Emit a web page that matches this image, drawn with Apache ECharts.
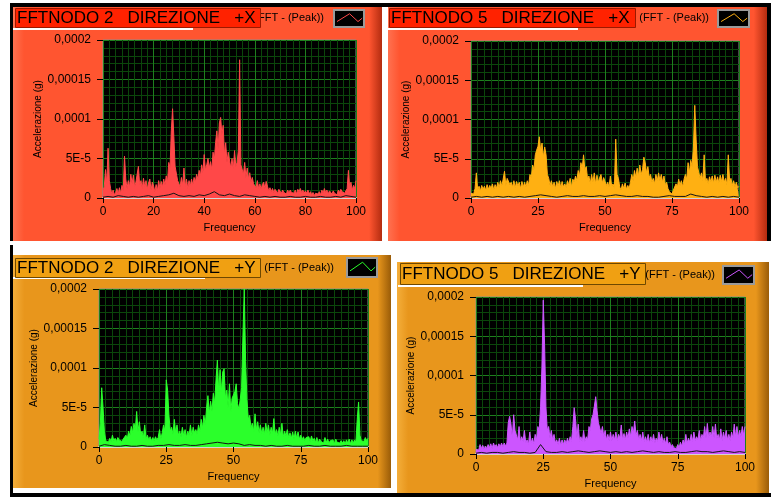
<!DOCTYPE html>
<html>
<head>
<meta charset="utf-8">
<title>FFT nodi 2 e 5</title>
<script src="https://cdn.jsdelivr.net/npm/echarts@6/dist/echarts.min.js"></script>
<style>
  html, body { margin: 0; padding: 0; background: #ffffff; }
  #chart { width: 775px; height: 497px; }
</style>
</head>
<body>
<div id="chart"></div>
<script>
// Frequency resolution of the spectra (Hz between two samples, starting at 0 Hz)
const FREQ_STEP_HZ = 0.5;
// Resolution of the low residual trace drawn along the baseline
const RESIDUAL_STEP_HZ = 2;

// Y tick labels (acceleration in g), one per 5E-5 step
const Y_TICK_LABELS = ['0', '5E-5', '0,0001', '0,00015', '0,0002'];

const PANEL_TITLES = [
  'FFTNODO 2   DIREZIONE   +X',
  'FFTNODO 5   DIREZIONE   +X',
  'FFTNODO 2   DIREZIONE   +Y',
  'FFTNODO 5   DIREZIONE   +Y'
];
const LEGEND_LABEL = '(FFT - (Peak))';
const X_AXIS_NAME = 'Frequency';
const Y_AXIS_NAME = 'Accelerazione (g)';

// Peak amplitude spectra, in micro-g (1 = 1E-6 g), 0..100 Hz every 0.5 Hz
const nodo2X = [
  10, 14, 36, 18, 63, 22, 12, 5, 10, 4,
  7, 12, 5, 13, 6, 16, 9, 53, 24, 12,
  22, 14, 30, 18, 29, 14, 20, 30, 40, 16,
  22, 12, 25, 14, 22, 11, 19, 24, 10, 20,
  15, 8, 17, 9, 22, 12, 21, 14, 24, 16,
  28, 20, 45, 38, 85, 113, 78, 40, 42, 22,
  24, 14, 26, 16, 38, 14, 24, 12, 22, 15,
  24, 16, 26, 20, 30, 24, 35, 28, 42, 32,
  55, 35, 42, 50, 38, 46, 36, 58, 48, 70,
  85, 62, 95, 102, 80, 92, 55, 70, 45, 58,
  58, 38, 50, 36, 60, 40, 45, 60, 175, 42,
  40, 30, 45, 26, 38, 24, 32, 20, 26, 18,
  20, 13, 22, 12, 18, 11, 17, 20, 12, 21,
  15, 9, 13, 8, 12, 7, 11, 9, 6, 11,
  10, 6, 10, 7, 9, 5, 10, 6, 10, 7,
  9, 6, 10, 5, 11, 8, 12, 7, 10, 6,
  9, 6, 10, 5, 8, 4, 7, 3, 6, 4,
  5, 8, 4, 10, 6, 12, 7, 10, 5, 9,
  8, 5, 9, 6, 8, 4, 10, 7, 11, 8,
  10, 6, 9, 12, 35, 14, 20, 10, 16, 12,
  22
];

const nodo5X = [
  6, 8, 5, 12, 32, 10, 15, 9, 16, 11,
  15, 10, 17, 11, 16, 12, 18, 10, 17, 12,
  20, 13, 22, 15, 24, 34, 16, 25, 27, 17,
  20, 14, 22, 13, 21, 15, 20, 12, 21, 14,
  20, 14, 22, 16, 30, 26, 42, 36, 55, 61,
  66, 78, 60, 70, 52, 65, 55, 30, 25, 16,
  22, 14, 20, 12, 21, 15, 22, 13, 21, 14,
  18, 13, 22, 16, 25, 14, 24, 20, 28, 22,
  35, 28, 45, 38, 55, 36, 40, 24, 28, 18,
  30, 20, 32, 18, 29, 20, 26, 30, 19, 26,
  25, 16, 20, 14, 28, 15, 18, 12, 75, 30,
  25, 14, 10, 18, 12, 19, 11, 16, 12, 20,
  30, 22, 35, 26, 38, 28, 42, 30, 36, 52,
  45, 32, 40, 26, 30, 20, 25, 18, 30, 22,
  32, 22, 30, 20, 28, 17, 20, 12, 8, 6,
  5, 10, 8, 18, 14, 24, 16, 22, 14, 24,
  30, 24, 45, 32, 48, 40, 65, 118, 75, 40,
  38, 25, 32, 22, 55, 20, 25, 18, 27, 20,
  28, 19, 29, 20, 27, 19, 29, 21, 30, 20,
  25, 17, 55, 22, 25, 16, 22, 14, 20, 13,
  15
];

const nodo2Y = [
  10, 30, 75, 50, 20, 8, 10, 6, 11, 7,
  15, 8, 11, 7, 12, 9, 11, 7, 10, 8,
  15, 10, 20, 14, 26, 18, 30, 22, 45, 20,
  32, 16, 20, 12, 28, 10, 15, 9, 13, 8,
  12, 8, 13, 9, 12, 22, 10, 18, 28, 20,
  85, 72, 40, 20, 25, 16, 35, 18, 28, 15,
  20, 13, 25, 14, 22, 12, 20, 15, 28, 14,
  25, 18, 22, 16, 28, 20, 35, 24, 40, 28,
  50, 65, 42, 58, 45, 68, 55, 85, 110, 70,
  98, 70, 95, 99, 62, 72, 50, 80, 45, 62,
  60, 70, 80, 55, 48, 60, 75, 140, 200, 108,
  60, 35, 40, 24, 30, 20, 42, 22, 32, 18,
  28, 17, 25, 16, 30, 18, 28, 15, 25, 17,
  36, 16, 22, 14, 25, 15, 30, 13, 20, 14,
  22, 12, 18, 11, 19, 10, 20, 11, 19, 10,
  15, 9, 13, 8, 12, 10, 13, 7, 14, 8,
  11, 6, 12, 5, 10, 7, 9, 5, 12, 6,
  10, 5, 8, 6, 9, 4, 10, 6, 8, 5,
  8, 5, 8, 4, 9, 5, 10, 4, 9, 5,
  9, 6, 35, 57, 15, 8, 10, 7, 12, 8,
  11
];

const nodo5Y = [
  6, 8, 5, 12, 7, 11, 6, 10, 7, 12,
  8, 13, 7, 14, 9, 12, 8, 13, 9, 14,
  9, 14, 10, 14, 40, 48, 38, 20, 50, 30,
  28, 18, 35, 15, 22, 16, 30, 14, 18, 12,
  28, 14, 20, 13, 25, 18, 35, 30, 60, 110,
  196, 139, 60, 30, 35, 20, 30, 18, 25, 14,
  18, 12, 20, 11, 18, 12, 18, 13, 20, 14,
  22, 16, 35, 59, 45, 20, 38, 16, 22, 15,
  30, 16, 22, 18, 35, 30, 45, 50, 61, 73,
  55, 40, 42, 26, 35, 22, 30, 18, 25, 17,
  28, 17, 25, 18, 28, 17, 25, 20, 37, 18,
  26, 18, 28, 20, 32, 22, 35, 26, 42, 24,
  30, 18, 25, 17, 28, 16, 22, 15, 25, 14,
  22, 15, 25, 14, 20, 16, 28, 17, 25, 14,
  20, 13, 22, 12, 15, 9, 12, 8, 10, 7,
  12, 8, 15, 10, 18, 12, 25, 14, 20, 15,
  25, 16, 28, 17, 22, 18, 30, 17, 25, 20,
  35, 20, 39, 21, 28, 22, 35, 20, 38, 19,
  25, 18, 32, 17, 28, 19, 30, 18, 25, 17,
  28, 20, 38, 22, 35, 21, 30, 22, 35, 24,
  35
];

// Dark residual trace near the baseline, in micro-g, 0..100 Hz every 2 Hz
const resid2X = [1, 2, 1, 3, 2, 1, 2, 1, 2, 3, 1, 2, 3, 4, 6, 3, 2, 3, 2, 4, 3, 5, 8, 4, 3, 5,
  3, 2, 4, 3, 2, 1, 2, 1, 2, 1, 1, 2, 1, 1, 2, 1, 1, 2, 1, 1, 2, 1, 3, 2, 1];
const resid5X = [1, 2, 1, 2, 1, 2, 1, 2, 1, 2, 1, 2, 3, 4, 3, 2, 1, 2, 3, 2, 2, 3, 2, 2, 3, 2,
  3, 4, 3, 2, 2, 3, 2, 2, 1, 1, 2, 3, 2, 2, 2, 5, 3, 2, 1, 2, 1, 2, 1, 2, 1];
const resid2Y = [1, 3, 2, 1, 1, 2, 1, 1, 2, 1, 1, 2, 2, 3, 2, 2, 3, 2, 2, 3, 4, 5, 6, 5, 4, 5,
  4, 2, 3, 2, 2, 1, 2, 1, 1, 2, 1, 1, 1, 2, 1, 1, 2, 1, 1, 1, 2, 1, 1, 1, 1];
const resid5Y = [1, 2, 1, 2, 2, 1, 2, 3, 2, 2, 1, 2, 12, 3, 2, 2, 3, 2, 3, 4, 3, 2, 3, 4, 3, 2,
  3, 2, 3, 2, 3, 4, 3, 2, 3, 2, 2, 3, 2, 2, 3, 4, 3, 3, 2, 3, 4, 3, 2, 3, 2];

const SPECTRA = [nodo2X, nodo5X, nodo2Y, nodo5Y];
const RESIDUALS = [resid2X, resid5X, resid2Y, resid5Y];
const X_MAJOR_STEP = [20, 25, 25, 25];

// ---- layout and look of the four front panels ----
const FONT = 'Liberation Sans, Arial, sans-serif';
const TOP_THEME = { body: '#ff5530', light: '#ff7150', dark: '#b32c10', box: '#ff2200', boxEdge: '#9c1800' };
const BOTTOM_THEME = { body: '#e8961c', light: '#f4ae3a', dark: '#9a5c08', box: '#f0a012', boxEdge: '#6e4800' };

const PANELS = [
  { theme: TOP_THEME, fill: '#ff4848',
    body: [13, 7, 369, 234], box: [15, 8, 245, 19], underline: [13, 28, 180],
    swatch: [334, 10, 30, 17], legendRight: 324, legendY: 18,
    grid: { left: 103, top: 40, width: 253, height: 158 } },
  { theme: TOP_THEME, fill: '#ffb012',
    body: [388, 7, 379, 234], box: [389, 8, 246, 19], underline: [388, 28, 190],
    swatch: [718, 10, 31, 17], legendRight: 709, legendY: 18,
    grid: { left: 471, top: 41, width: 268, height: 157 } },
  { theme: BOTTOM_THEME, fill: '#2bff2b',
    body: [13, 255, 378, 233], box: [15, 258, 245, 19], underline: [13, 277, 192],
    swatch: [347, 258, 30, 19], legendRight: 334, legendY: 268,
    grid: { left: 99, top: 289, width: 269, height: 158 } },
  { theme: BOTTOM_THEME, fill: '#cc55ff',
    body: [397, 262, 372, 231], box: [400, 263, 245, 21], underline: [398, 285, 185],
    swatch: [723, 266, 31, 18], legendRight: 715, legendY: 275,
    grid: { left: 476, top: 297, width: 269, height: 157 } }
];

function toPairs(values, step) {
  return values.map((v, i) => [i * step, v]);
}

const graphics = [];

// black frame lines around the front panels
[[10, 3, 761, 4], [10, 3, 3, 238], [767, 3, 4, 238], [10, 245, 3, 252], [10, 493, 761, 4]].forEach(r => {
  graphics.push({ type: 'rect', z: -20, silent: true,
    shape: { x: r[0], y: r[1], width: r[2], height: r[3] }, style: { fill: '#000' } });
});

PANELS.forEach((p, i) => {
  const t = p.theme;
  const [bx, by, bw, bh] = p.body;
  // panel body with bevelled edges
  graphics.push({ type: 'rect', z: -10, silent: true,
    shape: { x: bx, y: by, width: bw, height: bh },
    style: { fill: { type: 'linear', x: 0, y: 0, x2: 1, y2: 0, colorStops: [
      { offset: 0, color: t.light }, { offset: 0.03, color: t.body },
      { offset: 0.965, color: t.body }, { offset: 1, color: t.dark } ] } } });
  // legend caption, partly covered by the title box
  graphics.push({ type: 'text', z: 10, silent: true,
    style: { text: LEGEND_LABEL, x: p.legendRight, y: p.legendY, align: 'right', verticalAlign: 'middle',
      font: '11px ' + FONT, fill: '#000' } });
  // title box
  const [tx, ty, tw, th] = p.box;
  graphics.push({ type: 'rect', z: 20, silent: true,
    shape: { x: tx + 0.5, y: ty + 0.5, width: tw, height: th },
    style: { fill: t.box, stroke: t.boxEdge, lineWidth: 1 } });
  graphics.push({ type: 'text', z: 21, silent: true,
    style: { text: PANEL_TITLES[i], x: tx + 2, y: ty + th / 2 + 1, verticalAlign: 'middle',
      font: '17px ' + FONT, fill: '#000' } });
  // white rule under the title
  const [ux, uy, uw] = p.underline;
  graphics.push({ type: 'rect', z: 19, silent: true,
    shape: { x: ux, y: uy, width: uw, height: 2 }, style: { fill: '#ffffff' } });
  // plot legend swatch
  const [sx, sy, sw, sh] = p.swatch;
  graphics.push({ type: 'rect', z: 20, silent: true,
    shape: { x: sx, y: sy, width: sw, height: sh },
    style: { fill: '#000', stroke: '#9a9a9a', lineWidth: 2 } });
  graphics.push({ type: 'polyline', z: 21, silent: true,
    shape: { points: [
      [sx + sw * 0.1, sy + sh * 0.68], [sx + sw * 0.52, sy + sh * 0.22],
      [sx + sw * 0.8, sy + sh * 0.68], [sx + sw * 0.94, sy + sh * 0.48] ] },
    style: { stroke: p.fill, lineWidth: 1, fill: null } });
});

const grids = PANELS.map(p => Object.assign({
  show: true, backgroundColor: '#000', borderColor: '#8c8c8c', borderWidth: 1, z: 0
}, p.grid));

const xAxes = PANELS.map((p, i) => ({
  gridIndex: i, type: 'value', min: 0, max: 100, interval: X_MAJOR_STEP[i], z: 2,
  name: X_AXIS_NAME, nameLocation: 'middle', nameGap: 24,
  nameTextStyle: { color: '#000', fontSize: 11, fontFamily: FONT },
  axisLine: { show: true, onZero: false, lineStyle: { color: '#d4d4d4', width: 2 } },
  axisTick: { show: true, length: 5, lineStyle: { color: '#000', width: 1 } },
  axisLabel: { color: '#000', fontSize: 12, fontFamily: FONT, margin: 8 },
  splitLine: { show: true, lineStyle: { color: '#1e7f1e', width: 1 } },
  minorTick: { show: false, splitNumber: X_MAJOR_STEP[i] / 2.5 },
  minorSplitLine: { show: true, lineStyle: { color: '#0b470b', width: 1 } }
}));

const yAxes = PANELS.map((p, i) => ({
  gridIndex: i, type: 'value', min: 0, max: 200, interval: 50, z: 2,
  name: Y_AXIS_NAME, nameLocation: 'middle', nameGap: 56, nameRotate: 90,
  nameTextStyle: { color: '#000', fontSize: 10, fontFamily: FONT },
  axisLine: { show: false },
  axisTick: { show: true, length: 6, lineStyle: { color: '#000', width: 1 } },
  axisLabel: { color: '#000', fontSize: 12, fontFamily: FONT, margin: 12,
    formatter: v => Y_TICK_LABELS[Math.round(v / 50)] },
  splitLine: { show: true, lineStyle: { color: '#1e7f1e', width: 1 } },
  minorTick: { show: false, splitNumber: 5 },
  minorSplitLine: { show: true, lineStyle: { color: '#0b470b', width: 1 } }
}));

const series = [];
PANELS.forEach((p, i) => {
  series.push({
    type: 'line', xAxisIndex: i, yAxisIndex: i, z: 3,
    data: toPairs(SPECTRA[i], FREQ_STEP_HZ),
    symbol: 'none', showSymbol: false, clip: true,
    lineStyle: { color: p.fill, width: 1 },
    areaStyle: { color: p.fill, opacity: 1 }
  });
  series.push({
    type: 'line', xAxisIndex: i, yAxisIndex: i, z: 4,
    data: toPairs(RESIDUALS[i], RESIDUAL_STEP_HZ),
    symbol: 'none', showSymbol: false, clip: true,
    lineStyle: { color: '#151515', width: 1 }
  });
});

const chart = echarts.init(document.getElementById('chart'), null, { renderer: 'canvas' });
chart.setOption({
  animation: false,
  backgroundColor: '#ffffff',
  textStyle: { fontFamily: FONT },
  grid: grids,
  xAxis: xAxes,
  yAxis: yAxes,
  series: series,
  graphic: graphics
});
</script>
</body>
</html>
